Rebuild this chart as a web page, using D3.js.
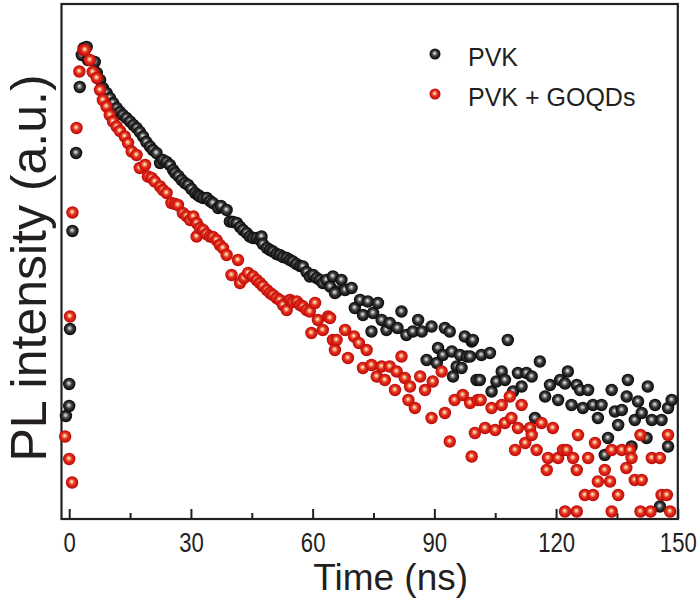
<!DOCTYPE html>
<html><head><meta charset="utf-8">
<script src="https://cdn.jsdelivr.net/npm/d3@7"></script>
<style>html,body{margin:0;padding:0;background:#fff;}svg{display:block;}</style>
</head><body>
<svg id="chart" width="700" height="609"></svg>
<script>
// Series names
const seriesNames = ["PVK", "PVK + GOQDs"];
// X tick values
const majorTicks = [0, 30, 60, 90, 120, 150];
const minorTicks = [15, 45, 75, 105, 135];
// PVK: [time (ns), PL intensity (a.u.)]
const pvkData = [
[-0.8,20.6],[0,22.6],[0,27],[0.2,38],[0.8,57.6],[1.7,73.2],[2.6,86.4],[3.1,92.8],[3.6,94.2],[4.3,94.4],
[4.6,91.8],[6.3,91.4],[6.8,89.2],[7.6,87.8],[8.3,86.2],[9.2,85.2],[10.0,84.2],[10.8,83.2],[11.7,82.2],[12.5,81.4],
[13.2,80.8],[14.1,80.2],[15.0,79.5],[15.8,78.8],[16.6,78.2],[17.4,77.4],[18.2,76.5],[19.0,75.4],[19.9,74.5],[20.6,73.8],
[21.5,73.2],[22.4,71.2],[23.1,71.8],[24.0,71.4],[24.8,70.8],[25.6,69.8],[26.1,69.2],[26.9,68.6],[27.7,67.8],[28.5,67.2],
[29.3,66.8],[30.1,66],[31.0,65.2],[31.7,64.8],[32.2,64.5],[33.0,64.2],[33.9,64.2],[34.7,63.6],[35.4,63.2],[36.7,62.2],
[37.4,62.6],[38.8,61.8],[39.6,59.5],[40.4,59.4],[41.3,59.2],[42.1,58.4],[42.8,57.8],[43.7,57.2],[44.5,56.5],[45.3,56.2],
[46.2,56.2],[47.0,55.8],[47.4,56.5],[47.7,55],[48.7,54.2],[49.5,53.8],[50.2,53.5],[51.1,53],[51.9,52.8],[52.7,52.4],
[53.6,52.2],[54.4,51.8],[55.1,51.5],[56.0,51],[56.9,50.6],[57.6,50.5],[58.5,49.4],[59.3,48.5],[60.1,48.8],[61.0,48.2],
[61.8,47.8],[62.5,47.2],[63.4,47.8],[64.3,46.5],[65.0,48.5],[65.9,45.5],[65.5,45.2],[67.1,47.8],[68.0,45.8],[69.6,46.2],
[70.4,42.2],[71.7,43.8],[72.4,40.8],[73.6,43.5],[74.5,37.5],[74.9,41.2],[76.1,43.2],[77.0,39.8],[78.2,37.8],[79.0,39.2],
[80.9,38.2],[81.9,41.5],[83.1,36.8],[84.7,37.5],[86.0,39.8],[86.9,37.5],[88.1,31.8],[89.3,38.5],[90.6,31.2],[90.9,34.2],
[92.1,32.8],[92.6,38.2],[93.8,37.5],[94.3,33.5],[94.6,28.5],[95.5,30.5],[96.3,32.8],[96.7,30.2],[97.5,36.5],[98.0,32.5],
[98.8,32.5],[99.2,35.5],[99.5,35.8],[100.4,27.8],[101.2,27.8],[101.6,32.8],[103.7,33.2],[104.1,25.5],[105.3,27.5],[106.6,29.5],
[107.4,27.8],[108.1,35.8],[109.4,25.5],[110.6,29.2],[111.5,26.5],[112.7,29.2],[114.0,28.5],[114.8,20.2],[116.0,31.5],[117.3,24.5],
[118.5,26.8],[120.5,23.8],[121.0,27.8],[122.2,27.1],[122.9,29.5],[123.8,22.8],[125.1,26.8],[125.9,25.8],[126.6,22.2],[127.9,25.8],
[129.1,22.8],[130.3,20.2],[131.2,22.8],[132.0,12.8],[132.8,16.2],[133.7,25.8],[134.5,21.5],[135.3,18.8],[136.2,21.8],[137.4,24.5],
[137.7,27.8],[138.6,14.5],[139.4,19.8],[140.2,23.5],[141.1,21.2],[142.3,16.2],[142.6,26.5],[143.6,19.8],[144.4,22.8],[145.6,2.5],
[146.0,19.8],[147.6,22.2],[147.6,14.5],[148.5,23.8]
];
// PVK + GOQDs: [time (ns), PL intensity (a.u.)]
const goqdData = [
[-1.0,16.5],[0,12],[0.7,7.3],[0.2,40.5],[0.8,61.3],[1.8,78.2],[2.5,89.5],[3.5,93.8],[3.9,93.8],[5.1,91.8],
[5.8,89.4],[6.8,88.2],[7.6,85.8],[8.3,83.8],[9.2,82.5],[10.0,80.8],[10.8,79.5],[11.7,78.5],[12.5,77.6],[13.7,76.5],
[14.5,75.2],[15.4,73.5],[16.6,72.8],[17.4,70.2],[18.7,70.8],[19.4,68.5],[20.3,68.2],[21.1,67.5],[22.4,66.5],[23.1,65.8],
[24.0,65.2],[25.2,63.2],[26.1,63],[26.8,62.8],[28.0,61.2],[28.9,60.6],[29.8,59.8],[30.6,60.5],[31.4,59.2],[31.4,56.5],
[32.2,58.2],[33.0,57.8],[33.8,57],[34.7,56.5],[35.4,56.4],[36.3,55.8],[37.1,54.8],[37.9,54.2],[38.8,52.8],[40.0,48.8],
[41.6,51.8],[42.1,47.2],[43.1,48.2],[44.1,49.2],[45.3,48.5],[46.2,47.8],[47.0,47.2],[47.7,46.6],[48.7,45.8],[49.5,45.2],
[50.2,44.8],[51.1,44.2],[51.9,43.8],[52.7,42.8],[53.6,41.8],[54.4,43.8],[55.1,43.4],[56.1,43.5],[56.9,42.8],[57.6,42.5],
[58.5,41.8],[59.3,41.5],[59.7,37.2],[60.6,43.2],[61.3,39.8],[62.5,37.8],[63.8,40.5],[64.3,40.2],[65.0,35.8],[65.5,33.8],
[65.9,35.8],[68.0,37.8],[68.7,32.2],[70.2,36.5],[71.4,35.2],[72.4,30.2],[73.3,33.8],[74.5,30.8],[75.8,28.5],[77.0,30.5],
[77.8,27.8],[79.0,30.5],[80.3,25.8],[80.7,29.5],[81.9,32.5],[82.7,28.2],[83.6,23.8],[84.0,26.5],[85.2,22.2],[86.5,28.5],
[87.7,25.8],[89.3,20.2],[89.6,27.5],[91.8,29.5],[92.6,21.2],[93.8,15.5],[95.0,23.8],[97.0,24.8],[98.8,23.2],[99.2,12.5],
[100.0,17.2],[100.7,23.8],[101.4,23.8],[102.5,18.2],[104.1,22.2],[105.0,17.8],[106.6,22.8],[107.4,19.2],[108.6,24.5],[109.0,20.2],
[109.9,13.8],[110.6,18.2],[111.5,22.8],[112.4,15.2],[113.6,18.2],[114.0,16.8],[115.2,13.8],[116.4,19.2],[117.7,9.8],[118.0,12.2],
[119.2,18.2],[120.5,12.2],[121.7,13.8],[122.2,1.5],[122.6,13.8],[124.2,12.2],[125.1,9.8],[125.1,1.5],[125.4,16.8],[127.1,4.8],
[127.9,12.2],[129.1,4.8],[129.6,15.2],[130.3,7.5],[132.0,9.8],[133.3,7.5],[133.7,13.8],[133.7,1.5],[135.3,4.8],[136.2,13.8],
[137.3,10.2],[138.2,13.8],[138.6,12.2],[139.4,7.8],[140.8,16.8],[140.8,1.5],[141.1,7.8],[143.3,1.5],[143.6,12.2],[145.6,12.2],
[146.0,4.8],[147.3,4.8],[147.6,16.8],[148.1,1.5]
];

const svg = d3.select("#chart");
const pLeft = 61.5, pRight = 677.8, pTop = 4, pBottom = 519;
const x = d3.scaleLinear().domain([-1.9, 150]).range([pLeft, pRight]);
const y = d3.scaleLinear().domain([0, 103]).range([pBottom, pTop]);
const ink = "#231f20";
const font = "'Liberation Sans', Arial, Helvetica, sans-serif";

// gradients for spheres
const defs = svg.append("defs");
function sphere(id, stops) {
  const g = defs.append("radialGradient").attr("id", id)
    .attr("cx", "50%").attr("cy", "50%").attr("r", "55%").attr("fx", "46%").attr("fy", "42%");
  stops.forEach(s => g.append("stop").attr("offset", s[0]).attr("stop-color", s[1]));
}
sphere("gBlack", [["0%", "#f4f4f4"], ["20%", "#a0a0a0"], ["45%", "#3c3c3c"], ["78%", "#141414"], ["100%", "#000"]]);
sphere("gRed", [["0%", "#fff6e0"], ["20%", "#f6a77c"], ["45%", "#e2321f"], ["78%", "#cc120d"], ["100%", "#a00000"]]);

// axis ticks (bottom, inward)
const axMajor = d3.axisBottom(x).tickValues(majorTicks).tickSize(-10).tickPadding(14).tickFormat(d3.format("d"));
const gx = svg.append("g").attr("transform", `translate(0,${pBottom})`).call(axMajor);
gx.select(".domain").remove();
gx.selectAll(".tick line").attr("stroke", ink).attr("stroke-width", 2);
gx.selectAll(".tick text").attr("fill", ink).attr("transform", "scale(0.82,1)")
  .style("font-family", font).style("font-size", "27px");
const axMinor = d3.axisBottom(x).tickValues(minorTicks).tickSize(-6).tickFormat("");
const gm = svg.append("g").attr("transform", `translate(0,${pBottom})`).call(axMinor);
gm.select(".domain").remove();
gm.selectAll(".tick line").attr("stroke", ink).attr("stroke-width", 2);

// frame
svg.append("rect").attr("x", pLeft).attr("y", pTop).attr("width", pRight - pLeft).attr("height", pBottom - pTop)
  .attr("fill", "none").attr("stroke", ink).attr("stroke-width", 2.2);

// points
const r = 6.2;
svg.append("g").selectAll("circle").data(pvkData).join("circle")
  .attr("cx", d => x(d[0])).attr("cy", d => y(d[1])).attr("r", r).attr("fill", "url(#gBlack)");
svg.append("g").selectAll("circle").data(goqdData).join("circle")
  .attr("cx", d => x(d[0])).attr("cy", d => y(d[1])).attr("r", r).attr("fill", "url(#gRed)");

// legend
const legend = svg.append("g");
[["url(#gBlack)", 54], ["url(#gRed)", 94]].forEach((m, i) => {
  legend.append("circle").attr("cx", 435).attr("cy", m[1]).attr("r", 5.5).attr("fill", m[0]);
  legend.append("text").attr("x", 468).attr("y", m[1] + 12).text(seriesNames[i])
    .attr("fill", ink).style("font-family", font).style("font-size", "25px");
});

// axis titles
svg.append("text").attr("x", (pLeft + pRight) / 2 + 21).attr("y", 590).attr("text-anchor", "middle")
  .attr("fill", ink).style("font-family", font).style("font-size", "37px").text("Time (ns)");
svg.append("text").attr("transform", `translate(46,268) rotate(-90)`).attr("text-anchor", "middle")
  .attr("fill", ink).style("font-family", font).style("font-size", "50px").text("PL intensity (a.u.)");
</script>
</body></html>
